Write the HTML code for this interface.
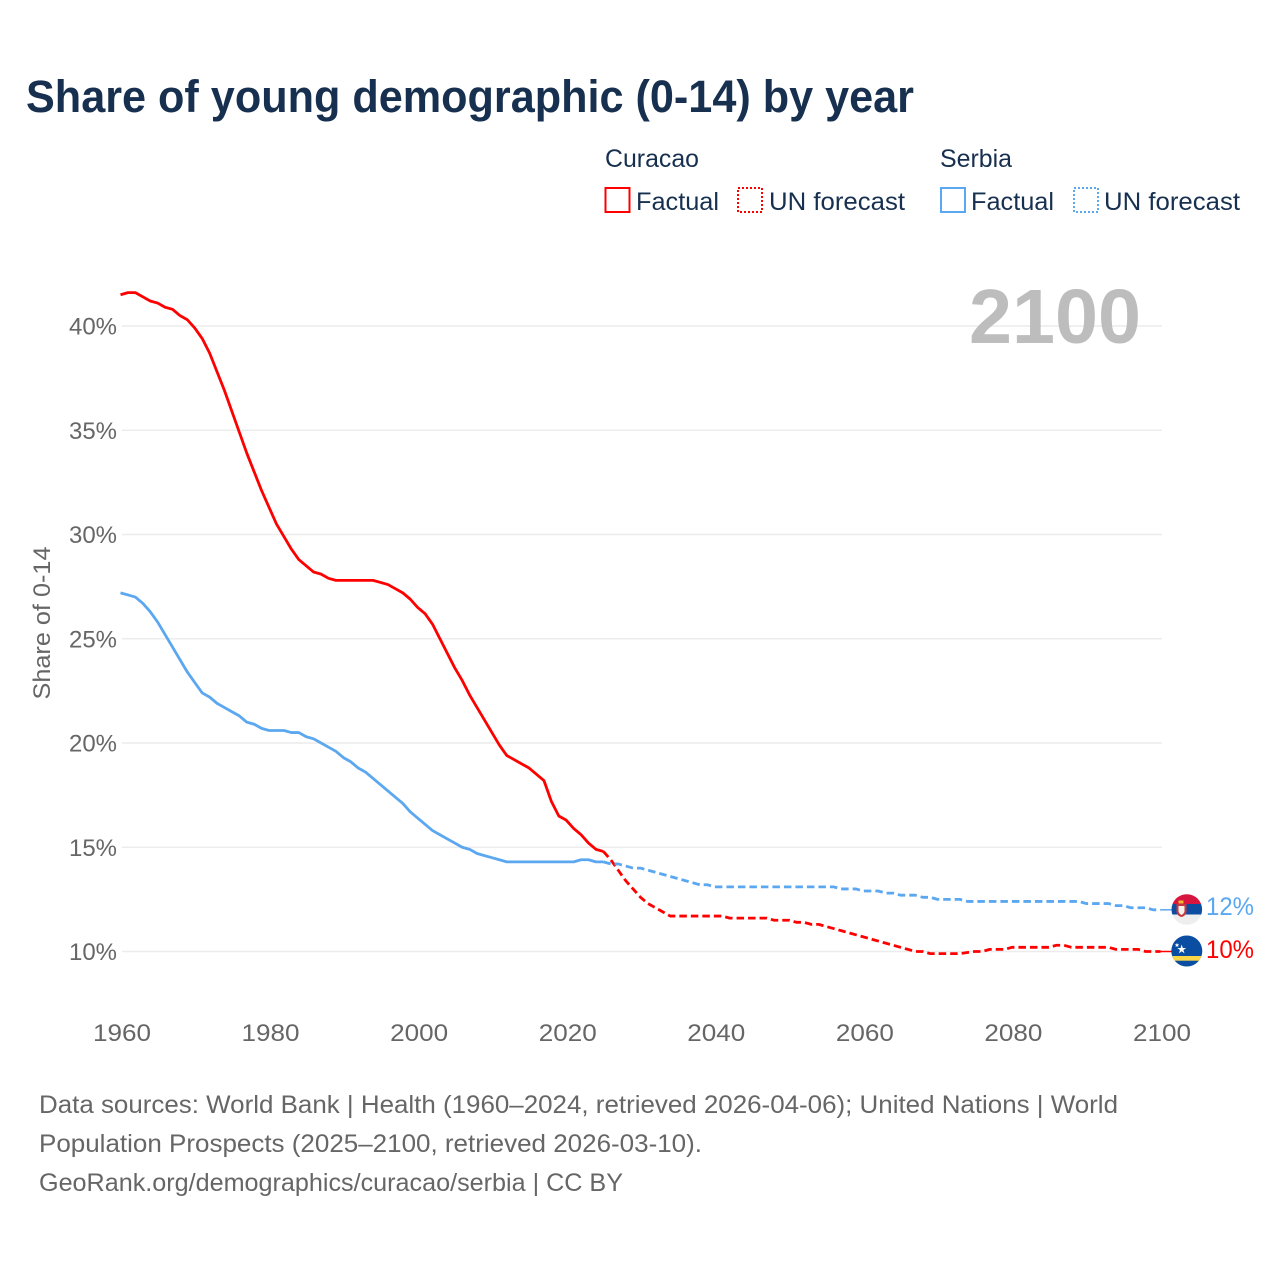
<!DOCTYPE html>
<html lang="en">
<head>
<meta charset="utf-8">
<title>Share of young demographic (0-14) by year</title>
<style>
html,body{margin:0;padding:0;background:#fff;}
svg{display:block;font-family:"Liberation Sans",sans-serif;}
</style>
</head>
<body>
<svg id="chart" xmlns="http://www.w3.org/2000/svg" width="1280" height="1280" viewBox="0 0 1280 1280">
  <rect width="1280" height="1280" fill="#fff"/>
  <text x="26" y="112" font-size="45" font-weight="700" fill="#17304f" textLength="888" lengthAdjust="spacingAndGlyphs">Share of young demographic (0-14) by year</text>

  <g font-size="25" fill="#17304f">
    <text x="605" y="167" textLength="94" lengthAdjust="spacingAndGlyphs">Curacao</text>
    <rect x="605.5" y="188" width="24" height="24" fill="none" stroke="#ff0000" stroke-width="2"/>
    <text x="636" y="210" textLength="83" lengthAdjust="spacingAndGlyphs">Factual</text>
    <rect x="738" y="188" width="24" height="24" fill="none" stroke="#ff0000" stroke-width="2" stroke-dasharray="2 2"/>
    <text x="769" y="210" textLength="136" lengthAdjust="spacingAndGlyphs">UN forecast</text>
    <text x="940" y="167" textLength="72" lengthAdjust="spacingAndGlyphs">Serbia</text>
    <rect x="941" y="188" width="24" height="24" fill="none" stroke="#5ba7f0" stroke-width="2"/>
    <text x="971" y="210" textLength="83" lengthAdjust="spacingAndGlyphs">Factual</text>
    <rect x="1074" y="188" width="24" height="24" fill="none" stroke="#5ba7f0" stroke-width="2" stroke-dasharray="2 2"/>
    <text x="1104" y="210" textLength="136" lengthAdjust="spacingAndGlyphs">UN forecast</text>
  </g>

  <g id="grid"></g>
  <g id="yticks" font-size="24" fill="#666"></g>
  <g id="xticks" font-size="24" fill="#666"></g>
  <text transform="translate(50,623) rotate(-90)" text-anchor="middle" font-size="24" fill="#666" textLength="153" lengthAdjust="spacingAndGlyphs">Share of 0-14</text>

  <text x="969" y="343" font-size="77" font-weight="700" fill="#bdbdbd" textLength="172" lengthAdjust="spacingAndGlyphs">2100</text>

  <g id="series" fill="none" stroke-linejoin="round"></g>

  <g id="flag-serbia">
    <clipPath id="clip-s"><circle cx="1186.8" cy="909.5" r="15.3"/></clipPath>
    <g clip-path="url(#clip-s)">
      <rect x="1170" y="893" width="34" height="11" fill="#d7153f"/>
      <rect x="1170" y="904" width="34" height="10.5" fill="#0c4da2"/>
      <rect x="1170" y="914.5" width="34" height="12" fill="#eeeeee"/>
      <rect x="1178.5" y="900.5" width="5" height="3" fill="#edb92e"/>
      <path d="M1176.5 904h10v8q-1 4-5 5q-4-1-5-5z" fill="#c6363c"/>
      <path d="M1178.5 906h6v5.5q-.7 2.5-3 3.5q-2.3-1-3-3.5z" fill="#f4f0ea"/>
    </g>
  </g>
  <g id="flag-curacao">
    <clipPath id="clip-c"><circle cx="1186.8" cy="951" r="15.5"/></clipPath>
    <g clip-path="url(#clip-c)">
      <rect x="1170" y="935" width="34" height="33" fill="#0a4ea2"/>
      <rect x="1170" y="956" width="34" height="4.7" fill="#f9d648"/>
      <polygon points="1181.7,944.5 1182.8,948 1186.2,948 1183.4,950 1184.5,953.4 1181.7,951.3 1178.9,953.4 1180,950 1177.2,948 1180.6,948" fill="#fff"/>
      <polygon points="1177,942.8 1177.6,944.4 1179.3,944.4 1178,945.4 1178.5,947 1177,946.1 1175.5,947 1176,945.4 1174.7,944.4 1176.4,944.4" fill="#fff"/>
    </g>
  </g>
  <text x="1206" y="915" font-size="25" fill="#5ba7f0" textLength="48" lengthAdjust="spacingAndGlyphs">12%</text>
  <text x="1206" y="958" font-size="25" fill="#ff0000" textLength="48" lengthAdjust="spacingAndGlyphs">10%</text>

  <g font-size="25" fill="#666">
    <text x="39" y="1113" textLength="1079" lengthAdjust="spacingAndGlyphs">Data sources: World Bank | Health (1960–2024, retrieved 2026-04-06); United Nations | World</text>
    <text x="39" y="1152" textLength="663" lengthAdjust="spacingAndGlyphs">Population Prospects (2025–2100, retrieved 2026-03-10).</text>
    <text x="39" y="1191" textLength="584" lengthAdjust="spacingAndGlyphs">GeoRank.org/demographics/curacao/serbia | CC BY</text>
  </g>
</svg>
<script>
const yTickValues = [10, 15, 20, 25, 30, 35, 40];
const xTickYears = [1960, 1980, 2000, 2020, 2040, 2060, 2080, 2100];
const factualStartYear = 1960;
const forecastStartYear = 2025;
const curacaoFactual = [41.5,41.6,41.6,41.4,41.2,41.1,40.9,40.8,40.5,40.3,39.9,39.4,38.7,37.8,36.9,35.9,34.9,33.9,33.0,32.1,31.3,30.5,29.9,29.3,28.8,28.5,28.2,28.1,27.9,27.8,27.8,27.8,27.8,27.8,27.8,27.7,27.6,27.4,27.2,26.9,26.5,26.2,25.7,25.0,24.3,23.6,23.0,22.3,21.7,21.1,20.5,19.9,19.4,19.2,19.0,18.8,18.5,18.2,17.2,16.5,16.3,15.9,15.6,15.2,14.9,14.8];
const curacaoForecast = [14.8,14.4,13.9,13.4,13.0,12.6,12.3,12.1,11.9,11.7,11.7,11.7,11.7,11.7,11.7,11.7,11.7,11.6,11.6,11.6,11.6,11.6,11.6,11.5,11.5,11.5,11.4,11.4,11.3,11.3,11.2,11.1,11.0,10.9,10.8,10.7,10.6,10.5,10.4,10.3,10.2,10.1,10.0,10.0,9.9,9.9,9.9,9.9,9.9,9.95,10.0,10.0,10.1,10.1,10.1,10.2,10.2,10.2,10.2,10.2,10.2,10.3,10.3,10.2,10.2,10.2,10.2,10.2,10.2,10.1,10.1,10.1,10.1,10.0,10.0,10.0];
const serbiaFactual = [27.2,27.1,27.0,26.7,26.3,25.8,25.2,24.6,24.0,23.4,22.9,22.4,22.2,21.9,21.7,21.5,21.3,21.0,20.9,20.7,20.6,20.6,20.6,20.5,20.5,20.3,20.2,20.0,19.8,19.6,19.3,19.1,18.8,18.6,18.3,18.0,17.7,17.4,17.1,16.7,16.4,16.1,15.8,15.6,15.4,15.2,15.0,14.9,14.7,14.6,14.5,14.4,14.3,14.3,14.3,14.3,14.3,14.3,14.3,14.3,14.3,14.3,14.4,14.4,14.3,14.3];
const serbiaForecast = [14.3,14.2,14.2,14.1,14.0,14.0,13.9,13.8,13.7,13.6,13.5,13.4,13.3,13.2,13.2,13.1,13.1,13.1,13.1,13.1,13.1,13.1,13.1,13.1,13.1,13.1,13.1,13.1,13.1,13.1,13.1,13.1,13.0,13.0,13.0,12.9,12.9,12.9,12.8,12.8,12.7,12.7,12.7,12.6,12.6,12.5,12.5,12.5,12.5,12.4,12.4,12.4,12.4,12.4,12.4,12.4,12.4,12.4,12.4,12.4,12.4,12.4,12.4,12.4,12.4,12.3,12.3,12.3,12.3,12.2,12.2,12.1,12.1,12.1,12.0,12.0];

const SVG_NS = 'http://www.w3.org/2000/svg';
function xScale(year) { return 122 + (year - 1960) * (1162 - 122) / 140; }
function yScale(v) { return 951.5 - (v - 10) * (951.5 - 326) / 30; }
function pathFrom(values, startYear) {
  return values.map(function (v, i) {
    return (i ? 'L' : 'M') + (xScale(startYear + i) - 1.5).toFixed(2) + ' ' + yScale(v).toFixed(2);
  }).join('');
}

const grid = document.getElementById('grid');
const yticks = document.getElementById('yticks');
yTickValues.forEach(function (v) {
  const line = document.createElementNS(SVG_NS, 'line');
  
  
  line.setAttribute('x1', 122);
  line.setAttribute('x2', 1162);
  line.setAttribute('y1', yScale(v));
  line.setAttribute('y2', yScale(v));
  line.setAttribute('stroke', '#ececec');
  line.setAttribute('stroke-width', '1.5');
  grid.appendChild(line);
  const label = document.createElementNS(SVG_NS, 'text');
  
  
  label.setAttribute('x', 69);
  label.setAttribute('y', yScale(v) + 8.5);
  label.setAttribute('textLength', 48);
  label.setAttribute('lengthAdjust', 'spacingAndGlyphs');
  label.textContent = v + '%';
  yticks.appendChild(label);
});

const xticks = document.getElementById('xticks');
xTickYears.forEach(function (year) {
  const label = document.createElementNS(SVG_NS, 'text');
  
  
  label.setAttribute('x', xScale(year) - 29);
  label.setAttribute('y', 1041);
  label.setAttribute('textLength', 58);
  label.setAttribute('lengthAdjust', 'spacingAndGlyphs');
  label.textContent = year;
  xticks.appendChild(label);
});

const series = document.getElementById('series');
function addPath(d, color, width, dash) {
  const p = document.createElementNS(SVG_NS, 'path');
  p.setAttribute('d', d);
  p.setAttribute('stroke', color);
  p.setAttribute('stroke-width', width);
  if (dash) p.setAttribute('stroke-dasharray', dash);
  series.appendChild(p);
  return p;
}
const serbiaFactualLine = addPath(pathFrom(serbiaFactual, factualStartYear), '#5ba7f0', 2.8);


const curacaoForecastLine = addPath(pathFrom(curacaoForecast, forecastStartYear), '#ff0000', 2.8, '7.5 4');


const serbiaForecastLine = addPath(pathFrom(serbiaForecast, forecastStartYear), '#5ba7f0', 2.8, '7.5 4');


const curacaoFactualLine = addPath(pathFrom(curacaoFactual, factualStartYear), '#ff0000', 2.8);


const lastYear = forecastStartYear + serbiaForecast.length - 1;
const serbiaConnector = addPath('M' + (xScale(lastYear) - 1.5) + ' ' + yScale(serbiaForecast[serbiaForecast.length - 1]) + 'H1175', '#5ba7f0', 1.5);


const curacaoConnector = addPath('M' + (xScale(lastYear) - 1.5) + ' ' + yScale(curacaoForecast[curacaoForecast.length - 1]) + 'H1175', '#ff0000', 1.5);


</script>
</body>
</html>
